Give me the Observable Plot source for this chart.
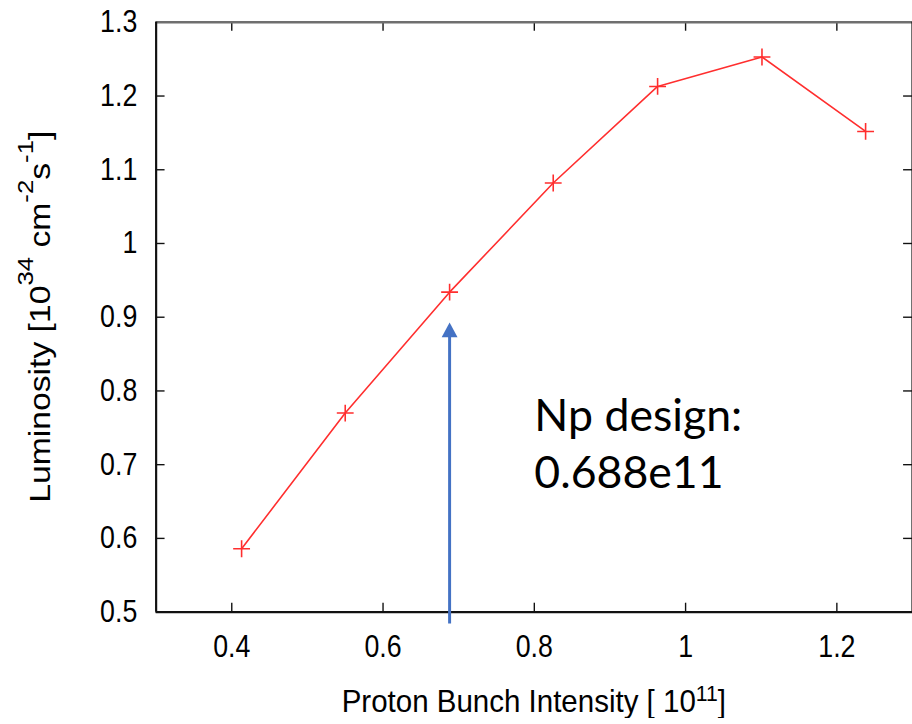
<!DOCTYPE html>
<html>
<head>
<meta charset="utf-8">
<script src="https://cdn.jsdelivr.net/npm/d3@7"></script>
<script src="https://cdn.jsdelivr.net/npm/@observablehq/plot@0.6"></script>
<style>
  html, body { margin: 0; padding: 0; background: #fff; overflow: hidden; }
  #chart { width: 912px; height: 724px; overflow: hidden; }
</style>
</head>
<body>
<div id="chart"></div>
<script>
// Luminosity versus proton bunch intensity
const intensity  = [0.413, 0.550, 0.688, 0.825, 0.963, 1.101, 1.238];
const luminosity = [0.586, 0.770, 0.934, 1.082, 1.213, 1.253, 1.152];

const xTicks = [0.4, 0.6, 0.8, 1.0, 1.2];
const yTicks = [0.5, 0.6, 0.7, 0.8, 0.9, 1.0, 1.1, 1.2, 1.3];

// design intensity annotation
const designIntensity = 0.688;
const arrowTip = 0.893;
const designLabel = ["Np design:", "0.688e11"];
const designLabelAt = {x: 0.8, y: 0.8};

const xTitle = [["Proton Bunch Intensity [ 10"], ["11", true], ["]"]];
const yTitle = [["Luminosity [10"], ["34", true], [" cm"], ["-2", true], ["s"], ["-1", true], ["]"]];

const points = intensity.map((x, i) => ({x, y: luminosity[i]}));

const W = 920, H = 724;
const M = {top: 22, right: 0, bottom: 107, left: 157};
const innerW = W - M.left - M.right;
const innerH = H - M.top - M.bottom;
const tickLen = 9;
const squeeze = 0.87;               // condensed look of the gnuplot lettering
const fmt = d => String(+d.toFixed(2));
const red = "#ff2e2e";
const blue = "#4472C4";

// thin "+" marker as drawn by gnuplot
const thinPlus = {
  draw(ctx, size) {
    const r = Math.sqrt(size / Math.PI);
    ctx.moveTo(-r, 0); ctx.lineTo(r, 0);
    ctx.moveTo(0, -r); ctx.lineTo(0, r);
  }
};
// filled arrowhead with its tip at the anchor point
const arrowHead = {
  draw(ctx) {
    ctx.moveTo(0, 0); ctx.lineTo(-8, 15); ctx.lineTo(8, 15); ctx.closePath();
  }
};

const plot = Plot.plot({
  width: W, height: H,
  marginTop: M.top, marginRight: M.right, marginBottom: M.bottom, marginLeft: M.left,
  x: {domain: [0.3, 1.3]},
  y: {domain: [0.5, 1.3]},
  style: {fontFamily: "'Liberation Sans', Arial, Helvetica, sans-serif", color: "#000", background: "#fff"},
  marks: [
    // tick labels
    Plot.axisX(xTicks, {anchor: "bottom", tickSize: 0, tickPadding: 23, fontSize: 31, label: null, tickFormat: fmt}),
    Plot.axisY(yTicks, {anchor: "left", tickSize: 0, tickPadding: 19, fontSize: 31, label: null, tickFormat: fmt}),
    // inward mirrored ticks
    Plot.tickX(xTicks, {x: d => d, insetTop: innerH - tickLen, stroke: "#111", strokeWidth: 1.4}),
    Plot.tickX(xTicks, {x: d => d, insetBottom: innerH - tickLen, stroke: "#111", strokeWidth: 1.4}),
    Plot.tickY(yTicks, {y: d => d, insetRight: innerW - tickLen, stroke: "#111", strokeWidth: 1.4}),
    Plot.tickY(yTicks, {y: d => d, insetLeft: innerW - tickLen, stroke: "#111", strokeWidth: 1.4}),
    // border
    Plot.ruleY([1.3], {stroke: "#6f6f6f", strokeWidth: 2.4}),
    Plot.ruleY([0.5], {stroke: "#111", strokeWidth: 2.2}),
    Plot.ruleX([0.3], {stroke: "#111", strokeWidth: 2.2}),
    Plot.ruleX([1.3], {stroke: "#111", strokeWidth: 2.2}),
    // data
    Plot.line(points, {x: "x", y: "y", stroke: red, strokeWidth: 1.6}),
    Plot.dot(points, {x: "x", y: "y", symbol: thinPlus, r: 8.5, stroke: red, strokeWidth: 1.6, fill: "none"}),
    // design annotation
    Plot.ruleX([{x: designIntensity, y1: 0.5, y2: arrowTip}],
      {x: "x", y1: "y1", y2: "y2", stroke: blue, strokeWidth: 3, insetTop: 12, insetBottom: -5}),
    Plot.dot([{x: designIntensity, y: arrowTip}], {x: "x", y: "y", symbol: arrowHead, fill: blue, stroke: "none"}),
    Plot.text([designLabel.join("\n")], {
      x: () => designLabelAt.x, y: () => designLabelAt.y, text: d => d,
      textAnchor: "start", lineAnchor: "top", lineHeight: 1.27,
      fontSize: 45, fontFamily: "Lato, 'Open Sans', sans-serif", fill: "#000"
    })
  ]
});

const svg = d3.select(plot);

// condense tick label lettering around each label's anchor
svg.selectAll("g[aria-label$='tick label'] text").each(function () {
  const t = d3.select(this);
  const tr = t.attr("transform") || "";
  const x = t.attr("x");
  let shift = "";
  if (x != null && isFinite(+x)) { shift = ` translate(${+x},0)`; t.attr("x", null); }
  t.attr("transform", `${tr}${shift} scale(${squeeze},1)`);
});

// axis titles with raised exponents
function title(parts, transform, size, supSize, raise) {
  const t = svg.append("text")
    .attr("transform", transform)
    .attr("text-anchor", "middle")
    .attr("font-size", size)
    .attr("fill", "#000")
    .style("white-space", "pre");
  let up = false;
  for (const [s, sup] of parts) {
    const sp = t.append("tspan").text(s);
    if (sup) { sp.attr("font-size", supSize).attr("dy", -raise); up = true; }
    else if (up) { sp.attr("dy", raise); up = false; }
  }
}
const xs = plot.scale("x"), ys = plot.scale("y");
const cx = (xs.apply(0.3) + xs.apply(1.3)) / 2;
const cy = (ys.apply(0.5) + ys.apply(1.3)) / 2;
title(xTitle, `translate(${cx},718) scale(0.93,1)`, 32, 23, 11);
title(yTitle, `translate(50,${cy}) scale(${squeeze},1) rotate(-90)`, 34, 26, 19);

document.getElementById("chart").appendChild(plot);
</script>
</body>
</html>
